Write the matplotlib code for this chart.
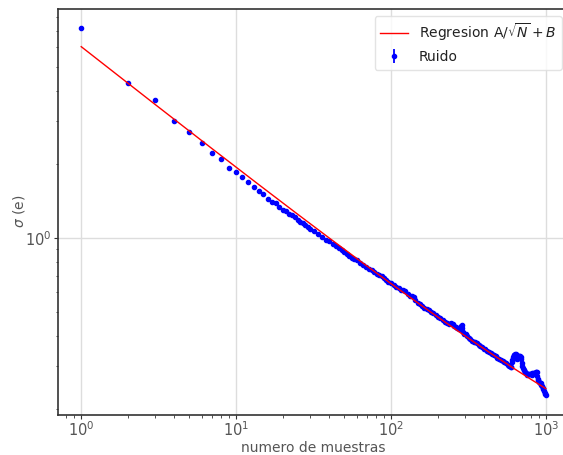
import matplotlib
matplotlib.use("Agg")
import matplotlib.pyplot as plt
import numpy as np

# ---- data ----
n_muestras = [1, 2, 3, 4, 5, 6, 7, 8, 9, 10,
              11, 12, 13, 14, 15, 16, 17, 18, 19, 20,
              21, 22, 23, 24, 25, 26, 27, 28, 29, 30,
              32, 34, 36, 38, 40, 42, 44, 46, 48, 50,
              52, 54, 56, 58, 60, 63, 66, 69, 72, 75,
              78, 81, 84, 87, 90, 93, 96, 100, 104, 108,
              112, 116, 120, 124, 128, 132, 136, 140, 144, 149,
              154, 159, 164, 170, 176, 182, 188, 195, 202, 209,
              216, 223, 230, 237, 244, 250, 256, 262, 268, 274,
              279, 283, 286, 289, 293, 298, 304, 311, 318, 326,
              334, 342, 351, 360, 369, 378, 388, 398, 408, 418,
              429, 440, 451, 463, 475, 487, 500, 513, 526, 540,
              554, 568, 582, 596, 600, 604, 608, 612, 617, 622,
              628, 634, 641, 648, 655, 662, 669, 676, 684, 691,
              697, 702, 707, 713, 720, 727, 735, 743, 751, 760,
              770, 780, 790, 800, 810, 820, 830, 840, 850, 860,
              870, 878, 884, 890, 897, 905, 915, 925, 935, 945,
              955, 965, 975, 985, 993, 1000]

sigma = [7.18, 4.29, 3.66, 3.01, 2.72, 2.44, 2.22, 2.10, 1.94, 1.86,
         1.77, 1.70, 1.61, 1.56, 1.51, 1.45, 1.41, 1.39, 1.34, 1.30,
         1.29, 1.26, 1.24, 1.22, 1.18, 1.16, 1.15, 1.13, 1.11, 1.09,
         1.071, 1.041, 1.013, 0.987, 0.972, 0.950, 0.930, 0.910, 0.892, 0.875,
         0.859, 0.844, 0.830, 0.821, 0.811, 0.793, 0.776, 0.760, 0.749, 0.738,
         0.725, 0.712, 0.707, 0.702, 0.685, 0.675, 0.665, 0.656, 0.641, 0.630,
         0.625, 0.615, 0.612, 0.608, 0.594, 0.580, 0.578, 0.576, 0.558, 0.544,
         0.536, 0.529, 0.521, 0.516, 0.507, 0.499, 0.495, 0.487, 0.477, 0.470,
         0.462, 0.456, 0.450, 0.447, 0.450, 0.445, 0.436, 0.432, 0.428, 0.424,
         0.424, 0.438, 0.444, 0.430, 0.415, 0.408, 0.405, 0.397, 0.393, 0.386,
         0.382, 0.378, 0.377, 0.373, 0.366, 0.362, 0.358, 0.354, 0.353, 0.347,
         0.343, 0.340, 0.336, 0.332, 0.329, 0.325, 0.322, 0.318, 0.315, 0.311,
         0.308, 0.304, 0.301, 0.299, 0.299, 0.312, 0.317, 0.322, 0.327, 0.332,
         0.334, 0.336, 0.338, 0.330, 0.322, 0.324, 0.329, 0.330, 0.329, 0.327,
         0.320, 0.310, 0.301, 0.294, 0.290, 0.289, 0.285, 0.281, 0.278, 0.276,
         0.278, 0.278, 0.280, 0.278, 0.277, 0.281, 0.282, 0.281, 0.282, 0.284,
         0.285, 0.284, 0.275, 0.267, 0.264, 0.260, 0.257, 0.256, 0.252, 0.249,
         0.245, 0.242, 0.237, 0.233, 0.231, 0.230]

error_relativo = 0.015          # estimated relative size of the error bars
coef_A = 5.986                  # regression A / sqrt(N) + B
coef_B = 0.054

etiqueta_x = "numero de muestras"
etiqueta_y = r"$\sigma$ (e)"
etiqueta_regresion = r"Regresion A/$\sqrt{N}+B$"
etiqueta_ruido = "Ruido"

# ---- figure ----
TEXT = "#555555"
plt.rcParams.update({
    "font.family": "DejaVu Sans",
    "font.size": 10,
    "text.color": "#222222",
    "axes.labelcolor": TEXT,
    "xtick.color": "#333333",
    "ytick.color": "#333333",
    "xtick.labelcolor": TEXT,
    "ytick.labelcolor": TEXT,
})

fig = plt.figure(figsize=(5.63, 4.55), dpi=100)
ax = fig.add_axes([58 / 563, 1 - 414.5 / 455, (569 - 58) / 563, (414.5 - 9) / 455])

N = np.array(n_muestras, dtype=float)
s = np.array(sigma)
ax.errorbar(N, s, yerr=error_relativo * s, fmt='.', color='blue',
            ecolor='blue', markersize=6, elinewidth=1.3, label=etiqueta_ruido, zorder=2)

N_fit = np.array(n_muestras, dtype=float)
ax.plot(N_fit, coef_A / np.sqrt(N_fit) + coef_B, color='red', lw=1.0,
        label=etiqueta_regresion, zorder=3)

ax.set_xscale('log')
ax.set_yscale('log')
ax.set_xlim(10 ** -0.15, 10 ** 3.15)
ax.set_ylim(10 ** -0.7196, 10 ** 0.9347)

ax.grid(True, which='major', color='#dddddd', lw=1.0, zorder=0)
ax.set_axisbelow(True)
for sp in ax.spines.values():
    sp.set_color('#333333')
    sp.set_linewidth(1.2)

ax.tick_params(which='major', direction='out', length=3, width=0.8, pad=1.5, labelsize=10.5)
ax.tick_params(which='minor', direction='out', length=1.8, width=0.6)
ax.set_xlabel(etiqueta_x, fontsize=10, labelpad=1)
ax.set_ylabel(etiqueta_y, fontsize=10, labelpad=-1)

leg = ax.legend(loc='upper right', fontsize=10, frameon=True)
leg.get_frame().set_edgecolor('#dddddd')

fig.savefig("out.png", dpi=100)
